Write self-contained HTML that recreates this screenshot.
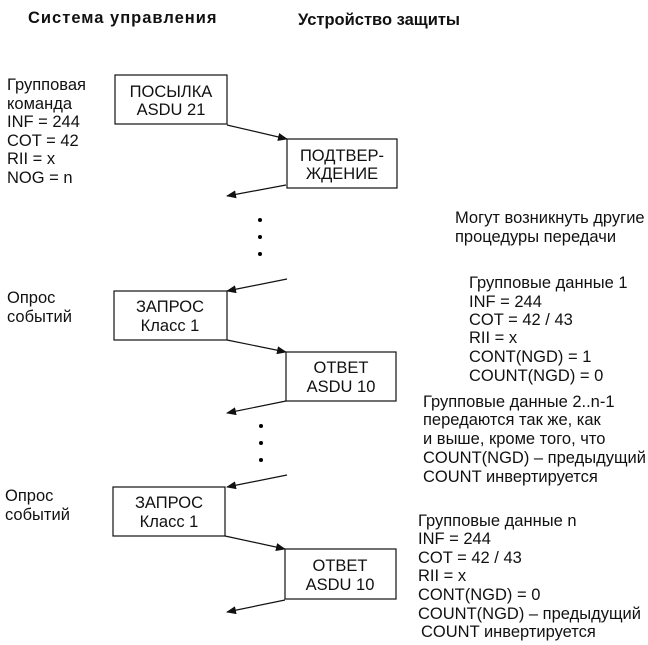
<!DOCTYPE html>
<html><head><meta charset="utf-8"><style>
html,body{margin:0;padding:0;background:#fff}
svg{display:block}
text{font-family:"Liberation Sans",Arial,sans-serif;font-size:16.5px;fill:#111}
.b{font-weight:bold;font-size:16.5px;letter-spacing:1px}
.b2{font-weight:bold;font-size:16.5px}
rect{fill:#fff;stroke:#111;stroke-width:1.2}
line{stroke:#111;stroke-width:1.2}
</style></head><body>
<svg width="648" height="645" viewBox="0 0 648 645" xmlns="http://www.w3.org/2000/svg">
<defs><marker id="a" markerWidth="10" markerHeight="8" refX="9" refY="4" orient="auto" markerUnits="userSpaceOnUse"><path d="M0,0 L10,4 L0,8 z" fill="#111"/></marker></defs>
<text class="b" x="28" y="23">Система управления</text>
<text class="b2" x="298" y="25">Устройство защиты</text>

<text x="7" y="90">Групповая</text>
<text x="7" y="109">команда</text>
<text x="7" y="127">INF = 244</text>
<text x="7" y="146">COT = 42</text>
<text x="7" y="164">RII = x</text>
<text x="7" y="183">NOG = n</text>

<rect x="115" y="75" width="112" height="49"/>
<text x="171" y="97" text-anchor="middle">ПОСЫЛКА</text>
<text x="171" y="115" text-anchor="middle">ASDU 21</text>
<line x1="227" y1="125" x2="287" y2="139" marker-end="url(#a)"/>
<rect x="287" y="139" width="110" height="49"/>
<text x="342" y="161" text-anchor="middle">ПОДТВЕР-</text>
<text x="342" y="179" text-anchor="middle">ЖДЕНИЕ</text>
<line x1="286" y1="185" x2="227" y2="196" marker-end="url(#a)"/>
<circle cx="260" cy="220" r="2"/><circle cx="260" cy="237" r="2"/><circle cx="260" cy="254" r="2"/>

<text x="455" y="223">Могут возникнуть другие</text>
<text x="455" y="242">процедуры передачи</text>

<line x1="287" y1="279" x2="227" y2="291" marker-end="url(#a)"/>
<text x="7" y="303">Опрос</text>
<text x="7" y="322">событий</text>
<rect x="114" y="291" width="113" height="49"/>
<text x="170" y="312" text-anchor="middle">ЗАПРОС</text>
<text x="170" y="331" text-anchor="middle">Класс 1</text>
<line x1="227" y1="340" x2="286" y2="352" marker-end="url(#a)"/>
<rect x="286" y="352" width="110" height="49"/>
<text x="341" y="373" text-anchor="middle">ОТВЕТ</text>
<text x="341" y="392" text-anchor="middle">ASDU 10</text>
<line x1="286" y1="401" x2="227" y2="413" marker-end="url(#a)"/>
<circle cx="261" cy="426" r="2"/><circle cx="261" cy="443" r="2"/><circle cx="261" cy="460" r="2"/>

<text x="469" y="288">Групповые данные 1</text>
<text x="469" y="307">INF = 244</text>
<text x="469" y="325">COT = 42 / 43</text>
<text x="469" y="343">RII = x</text>
<text x="469" y="362">CONT(NGD) = 1</text>
<text x="469" y="381">COUNT(NGD) = 0</text>

<text x="423" y="407">Групповые данные 2..n-1</text>
<text x="423" y="425">передаются так же, как</text>
<text x="423" y="444">и выше, кроме того, что</text>
<text x="423" y="463">COUNT(NGD) – предыдущий</text>
<text x="423" y="482">COUNT инвертируется</text>

<line x1="287" y1="475" x2="227" y2="487" marker-end="url(#a)"/>
<text x="5" y="501">Опрос</text>
<text x="5" y="520">событий</text>
<rect x="113" y="487" width="112" height="49"/>
<text x="169" y="508" text-anchor="middle">ЗАПРОС</text>
<text x="169" y="527" text-anchor="middle">Класс 1</text>
<line x1="225" y1="536" x2="285" y2="549" marker-end="url(#a)"/>
<rect x="285" y="549" width="111" height="50"/>
<text x="340" y="571" text-anchor="middle">ОТВЕТ</text>
<text x="340" y="590" text-anchor="middle">ASDU 10</text>
<line x1="285" y1="600" x2="227" y2="612" marker-end="url(#a)"/>

<text x="418" y="526">Групповые данные n</text>
<text x="418" y="544">INF = 244</text>
<text x="418" y="563">COT = 42 / 43</text>
<text x="418" y="581">RII = x</text>
<text x="418" y="600">CONT(NGD) = 0</text>
<text x="418" y="619">COUNT(NGD) – предыдущий</text>
<text x="421" y="637">COUNT инвертируется</text>
</svg>
</body></html>
